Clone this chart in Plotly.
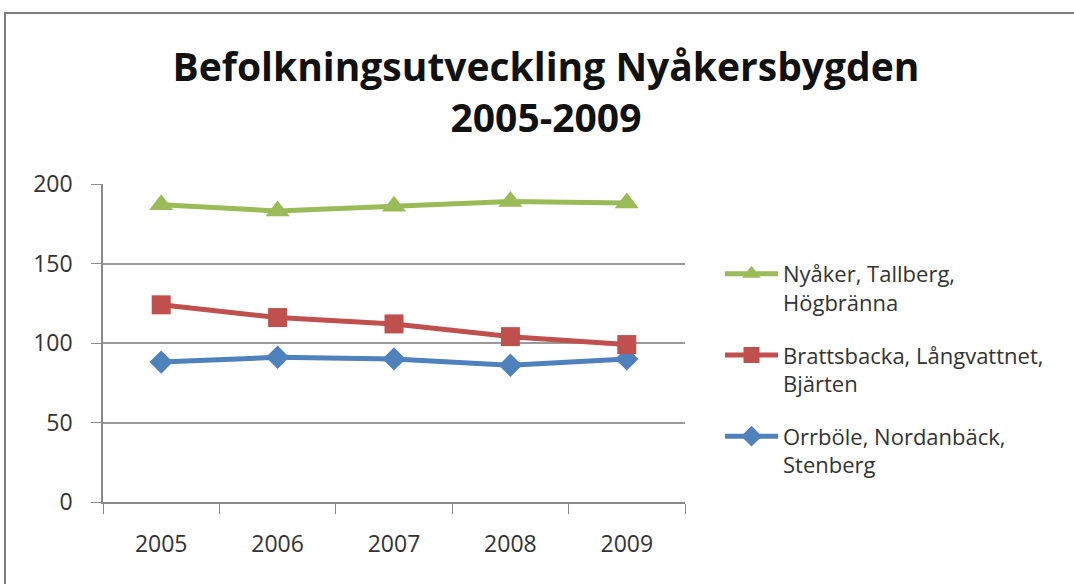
import plotly.graph_objects as go

years = ["2005", "2006", "2007", "2008", "2009"]
orrbole = [88, 91, 90, 86, 90]
brattsbacka = [124, 116, 112, 104, 99]
nyaker = [187, 183, 186, 189, 188]

names = ["Orrböle, Nordanbäck,<br>Stenberg",
         "Brattsbacka, Långvattnet,<br>Bjärten",
         "Nyåker, Tallberg,<br>Högbränna"]
colors = ["#4F81BD", "#C0504D", "#9BBB59"]
symbols = ["diamond", "square", "triangle-up"]
sizes = [18, 19, 21]
ranks = [3, 2, 1]
series = [orrbole, brattsbacka, nyaker]

FONT = "Open Sans, sans-serif"
fig = go.Figure()
for i, (vals, nm, c, s, sz, rk) in enumerate(zip(series, names, colors, symbols, sizes, ranks)):
    fig.add_trace(go.Scatter(x=years, y=vals, name=nm, mode="lines+markers",
                             legendgroup=f"g{i}", legendrank=rk,
                             line=dict(color=c, width=5),
                             marker=dict(symbol=s, size=sz, color=c)))

L, R, T, B = 103, 685, 184, 502
W, H = 1074, 584
pw, ph = R - L, B - T
fig.update_layout(
    width=W, height=H,
    margin=dict(l=L, r=W - R, t=T, b=H - B),
    paper_bgcolor="white", plot_bgcolor="white",
    font=dict(family=FONT, color="#333333"),
    title=dict(text="<b>Befolkningsutveckling Nyåkersbygden<br>2005-2009</b>",
               x=546 / W, xanchor="center", y=1 - 81 / H, yanchor="top",
               font=dict(size=39, color="#111111", family=FONT)),
    showlegend=True,
    legend=dict(x=(720 - L) / pw, y=(B - 253) / ph, xanchor="left", yanchor="top",
                traceorder="grouped", tracegroupgap=21, valign="top",
                itemwidth=53,
                font=dict(size=22, color="#333333", family=FONT),
                bgcolor="rgba(0,0,0,0)"),
    xaxis=dict(type="category", range=[-0.5, len(years) - 0.5],
               showline=True, linecolor="#8a8a8a", linewidth=1.5,
               ticks="outside", tickson="boundaries", ticklen=10, tickcolor="#8a8a8a",
               showgrid=False, tickfont=dict(size=23, color="#333333", family=FONT),
               ticklabelstandoff=21),
    yaxis=dict(range=[0, 200], tickvals=[0, 50, 100, 150, 200], showline=True,
               linecolor="#8a8a8a", linewidth=1.5, ticks="outside", ticklen=10,
               tickcolor="#8a8a8a", gridcolor="#9a9a9a", gridwidth=1.5,
               zeroline=False, tickfont=dict(size=23, color="#333333", family=FONT),
               ticklabelstandoff=14),
    shapes=[dict(type="rect", xref="paper", yref="paper",
                 x0=(5 - L) / pw, x1=(1090 - L) / pw,
                 y0=(B - 600) / ph, y1=(B - 13) / ph,
                 line=dict(color="#7f7f7f", width=2), fillcolor="rgba(0,0,0,0)",
                 layer="below")],
)
fig.write_html("out.html", config={"displayModeBar": False},
               post_script="document.body.style.margin='0';")
